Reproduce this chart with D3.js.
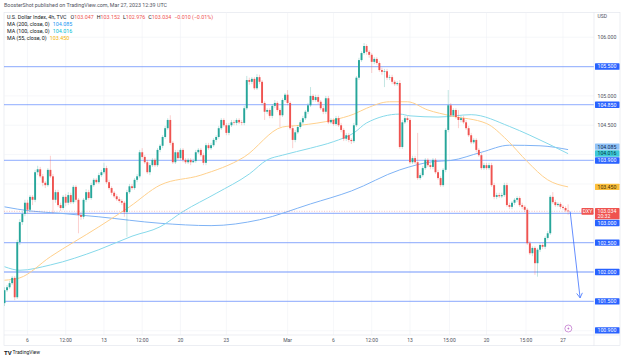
<!DOCTYPE html>
<html>
<head>
<meta charset="utf-8">
<title>U.S. Dollar Index, 4h</title>
<script src="https://d3js.org/d3.v7.min.js"></script>
<style>
  body { margin: 0; background: #fff; }
  svg { display: block; font-family: Roboto, "Noto Sans", sans-serif; }
</style>
</head>
<body>
<svg id="chart" width="625" height="360"></svg>
<script>
// ---- data (4h bars, early Feb to Mar 27 2023) ----
const opens = [
  101.47,101.69,101.74,101.81,101.90,101.57,102.51,102.85,102.99,103.18,
  103.06,103.28,103.23,103.70,103.75,103.63,103.52,103.48,103.74,103.63,
  103.23,103.36,103.14,103.09,103.28,103.18,103.31,103.19,103.45,103.23,
  102.97,102.94,103.23,103.36,103.26,103.48,103.57,103.53,103.65,103.70,
  103.77,103.53,103.43,103.35,103.29,103.24,103.21,103.18,103.02,103.36,
  103.46,103.43,103.57,103.63,104.04,103.96,103.87,103.70,103.82,103.91,
  103.82,104.08,104.15,104.30,104.45,104.59,104.20,103.87,104.04,103.94,
  104.08,103.91,103.87,103.91,103.87,103.89,104.04,104.08,103.99,103.86,
  104.16,104.11,104.16,104.25,104.30,104.45,104.59,104.50,104.37,104.50,
  104.55,104.54,104.59,104.55,104.54,104.79,105.27,105.24,105.29,105.13,
  105.32,105.24,104.88,104.73,104.76,104.66,104.83,104.88,104.76,104.67,
  104.93,105.02,104.88,104.45,104.25,104.38,104.47,104.55,104.62,104.73,
  104.84,105.00,104.93,104.98,104.90,104.79,104.73,104.96,104.55,104.59,
  104.52,104.62,104.50,104.42,104.27,104.33,104.25,104.23,104.50,105.31,
  105.61,105.73,105.85,105.75,105.70,105.58,105.63,105.56,105.44,105.41,
  105.42,105.31,105.32,105.24,105.20,105.22,104.13,104.55,104.62,104.59,
  103.87,103.94,103.87,103.60,103.65,103.77,103.91,103.82,103.79,103.91,
  103.70,103.60,103.48,103.74,104.42,104.84,104.67,104.76,104.64,104.59,
  104.62,104.55,104.45,104.33,104.21,104.25,104.08,103.99,103.77,103.82,
  103.77,103.82,103.48,103.28,103.31,103.29,103.31,103.48,103.14,103.11,
  103.18,103.23,103.26,103.14,103.11,103.06,102.49,102.32,102.41,102.15,
  102.38,102.46,102.43,102.58,102.66,103.28,103.19,103.14,103.16,103.11,
  103.09,103.047
];
const highs = [
  101.74,101.78,101.85,101.93,101.93,102.55,102.90,103.04,103.23,103.23,
  103.31,103.31,103.74,103.81,103.79,103.67,103.55,103.77,103.98,103.67,
  103.40,103.40,103.18,103.31,103.33,103.36,103.35,103.48,103.48,103.26,
  103.02,103.26,103.41,103.40,103.52,103.60,103.60,103.69,103.74,103.86,
  103.81,103.57,103.46,103.38,103.33,103.28,103.24,103.21,103.40,103.50,
  103.50,103.60,103.67,104.08,104.11,103.99,103.91,103.86,103.94,103.94,
  104.11,104.18,104.33,104.49,104.62,104.67,104.23,104.08,104.08,104.11,
  104.11,103.94,103.94,103.94,103.93,104.08,104.11,104.11,104.03,104.20,
  104.20,104.20,104.28,104.33,104.49,104.62,104.62,104.54,104.54,104.59,
  104.59,104.62,104.62,104.59,104.83,105.34,105.31,105.32,105.32,105.37,
  105.36,105.27,104.91,104.79,104.79,104.86,104.93,104.91,104.79,104.96,
  105.05,105.10,104.91,104.49,104.42,104.50,104.59,104.66,104.76,104.88,
  105.15,105.03,105.02,105.02,104.93,104.83,105.00,105.00,104.62,104.62,
  104.66,104.66,104.54,104.45,104.37,104.37,104.28,104.54,105.34,105.65,
  105.76,105.90,105.88,105.78,105.73,105.66,105.66,105.59,105.48,105.46,
  105.46,105.36,105.36,105.27,105.25,105.27,104.59,104.66,104.66,104.62,
  103.98,103.98,104.37,103.69,103.81,103.94,103.94,103.86,103.94,103.94,
  103.74,103.63,103.77,104.45,105.10,104.88,104.79,104.79,104.76,104.66,
  104.66,104.59,104.49,104.37,104.28,104.28,104.11,104.03,103.86,103.86,
  103.86,103.86,103.52,103.35,103.35,103.35,103.52,103.52,103.18,103.21,
  103.26,103.29,103.29,103.18,103.14,103.09,102.53,102.44,102.44,102.41,
  102.49,102.49,102.61,102.70,103.31,103.36,103.23,103.19,103.19,103.14,
  103.12,103.152
];
const lows = [
  101.42,101.66,101.71,101.78,101.52,101.54,102.46,102.80,102.95,103.00,
  103.02,103.14,103.19,103.65,103.60,103.46,103.43,103.45,103.60,103.00,
  103.18,103.11,103.04,103.06,103.12,103.14,103.16,103.16,103.19,102.66,
  102.89,102.90,103.19,103.23,103.23,103.45,103.50,103.50,103.62,103.67,
  103.50,103.40,103.31,103.26,103.21,103.18,103.14,102.94,102.60,103.33,
  103.40,103.40,103.53,103.60,103.93,103.84,103.67,103.65,103.79,103.79,
  103.79,104.04,104.11,104.27,104.42,104.16,103.84,103.84,103.91,103.91,
  103.87,103.84,103.84,103.82,103.86,103.86,104.01,103.96,103.82,103.82,
  104.08,104.08,104.13,104.21,104.27,104.42,104.47,104.33,104.33,104.47,
  104.50,104.50,104.52,104.50,104.50,104.76,105.19,105.20,105.10,105.10,
  105.20,104.84,104.59,104.69,104.62,104.62,104.79,104.73,104.47,104.64,
  104.90,104.84,104.42,104.11,104.21,104.35,104.44,104.52,104.59,104.69,
  104.81,104.90,104.90,104.86,104.76,104.69,104.69,104.52,104.52,104.49,
  104.49,104.47,104.38,104.23,104.23,104.21,104.18,104.20,104.47,105.27,
  105.58,105.70,105.70,105.65,105.39,105.54,105.53,105.41,105.36,105.15,
  105.27,105.27,105.20,105.17,105.17,104.10,104.10,104.52,104.55,103.84,
  103.84,103.84,103.57,103.57,103.62,103.74,103.79,103.75,103.75,103.67,
  103.57,103.45,103.45,103.70,104.38,104.64,104.64,104.61,104.45,104.55,
  104.52,104.42,104.30,104.18,104.18,104.04,103.96,103.74,103.74,103.74,
  103.74,103.45,103.24,103.24,103.26,103.26,103.28,103.11,103.07,103.07,
  103.14,103.19,103.11,103.07,103.02,102.46,102.29,102.27,101.95,101.92,
  102.34,102.39,102.39,102.55,102.63,103.16,103.11,103.11,103.07,103.06,
  103.02,102.976
];
const closes = [
  101.69,101.74,101.81,101.90,101.57,102.51,102.85,102.99,103.18,103.06,
  103.28,103.23,103.70,103.75,103.63,103.52,103.48,103.74,103.63,103.23,
  103.36,103.14,103.09,103.28,103.18,103.31,103.19,103.45,103.23,102.97,
  102.94,103.23,103.36,103.26,103.48,103.57,103.53,103.65,103.70,103.77,
  103.53,103.43,103.35,103.29,103.24,103.21,103.18,103.02,103.36,103.46,
  103.43,103.57,103.63,104.04,103.96,103.87,103.70,103.82,103.91,103.82,
  104.08,104.15,104.30,104.45,104.59,104.20,103.87,104.04,103.94,104.08,
  103.91,103.87,103.91,103.87,103.89,104.04,104.08,103.99,103.86,104.16,
  104.11,104.16,104.25,104.30,104.45,104.59,104.50,104.37,104.50,104.55,
  104.54,104.59,104.55,104.54,104.79,105.27,105.24,105.29,105.13,105.32,
  105.24,104.88,104.73,104.76,104.66,104.83,104.88,104.76,104.67,104.93,
  105.02,104.88,104.45,104.25,104.38,104.47,104.55,104.62,104.73,104.84,
  105.00,104.93,104.98,104.90,104.79,104.73,104.96,104.55,104.59,104.52,
  104.62,104.50,104.42,104.27,104.33,104.25,104.23,104.50,105.31,105.61,
  105.73,105.85,105.75,105.70,105.58,105.63,105.56,105.44,105.41,105.42,
  105.31,105.32,105.24,105.20,105.22,104.13,104.55,104.62,104.59,103.87,
  103.94,103.87,103.60,103.65,103.77,103.91,103.82,103.79,103.91,103.70,
  103.60,103.48,103.74,104.42,104.84,104.67,104.76,104.64,104.59,104.62,
  104.55,104.45,104.33,104.21,104.25,104.08,103.99,103.77,103.82,103.77,
  103.82,103.48,103.28,103.31,103.29,103.31,103.48,103.14,103.11,103.18,
  103.23,103.26,103.14,103.11,103.06,102.49,102.32,102.41,102.15,102.38,
  102.46,102.43,102.58,102.66,103.28,103.19,103.14,103.16,103.11,103.09,
  103.05,103.034
];

// moving averages, read at a few bars: [bar index, value]
const ma200 = [[0,103.11],[10,103.04],[22,103.00],[37,102.94],[61,102.83],[81,102.79],
  [100,102.89],[120,103.16],[136,103.38],[155,103.74],[168,103.88],[175,103.90],
  [187,104.04],[198,104.16],[210,104.15],[221,104.085]];
const ma100 = [[0,102.09],[6,102.03],[18,102.12],[37,102.38],[50,102.61],[61,102.77],
  [70,103.03],[83,103.34],[96,103.67],[103,103.91],[109,103.99],[120,104.11],[129,104.22],
  [137,104.37],[142,104.54],[155,104.69],[159,104.66],[170,104.64],[183,104.68],
  [198,104.48],[206,104.33],[221,104.016]];
const ma55 = [[0,101.86],[6,101.90],[18,102.26],[37,102.77],[49,103.11],[61,103.48],
  [77,103.65],[94,103.96],[109,104.47],[116,104.50],[129,104.59],[137,104.69],[142,104.79],
  [151,104.90],[158,104.90],[166,104.76],[175,104.66],[189,104.53],[197,104.25],
  [205,103.88],[213,103.57],[221,103.45]];

// horizontal levels drawn on the chart
const levels = [105.5, 104.85, 103.9, 103.0, 102.5, 102.0, 101.5, 100.9];
const priceTicks = [101, 101.5, 102, 102.5, 103, 103.5, 104, 104.5, 105, 105.5, 106];
const timeTickIdx = [9, 24, 39, 54, 69, 87, 111, 129, 144, 159, 174.5, 189, 204.5, 219];
const timeTickLabels = ["6", "12:00", "13", "12:00", "20", "23", "Mar", "6", "12:00", "13", "15:00", "20", "15:00", "27"];

// projected move drawn by the author: [bar index, price]
const arrowFrom = [221.8, 103.03];
const arrowTo = [225.7, 101.56];

const lastOpen = 103.047, lastHigh = 103.152, lastLow = 102.976, lastClose = 103.034;

// ---- layout ----
const svg = d3.select("#chart");
const plot = { l: 4, r: 594, t: 12.5, b: 335 };
const axisR = 620, axisB = 345.5;

const x = d3.scaleLinear().domain([0, 219]).range([4.5, 563]);
const y = d3.scaleLinear().domain([101, 106]).range([330.7, 37.2]);

const UP = "#26a69a", DOWN = "#ef5350";
const TXT = "#131722", MUTED = "#50535e";

svg.append("text").attr("x", 4).attr("y", 7.2)
  .attr("font-size", 5.35).attr("fill", MUTED)
  .text("BoosterShot published on TradingView.com, Mar 27, 2023 12:39 UTC");

svg.append("rect").attr("x", plot.l).attr("y", plot.t)
  .attr("width", axisR - plot.l).attr("height", axisB - plot.t)
  .attr("fill", "#fff").attr("stroke", "#e0e3eb").attr("stroke-width", 0.6);

svg.append("defs").append("clipPath").attr("id", "clip")
  .append("rect").attr("x", plot.l).attr("y", plot.t)
  .attr("width", plot.r - plot.l).attr("height", plot.b - plot.t);

// grid
const grid = svg.append("g").attr("stroke", "#f0f2f6").attr("stroke-width", 0.6);
grid.selectAll(".gx").data(timeTickIdx).join("line")
  .attr("x1", d => x(d)).attr("x2", d => x(d))
  .attr("y1", plot.t).attr("y2", plot.b);
grid.selectAll(".gy").data(priceTicks).join("line")
  .attr("x1", plot.l).attr("x2", plot.r)
  .attr("y1", d => y(d)).attr("y2", d => y(d));

const g = svg.append("g").attr("clip-path", "url(#clip)");

// level lines
g.selectAll(".lvl").data(levels).join("line")
  .attr("x1", plot.l).attr("x2", plot.r)
  .attr("y1", d => y(d)).attr("y2", d => y(d))
  .attr("stroke", "#2962ff").attr("stroke-opacity", 0.42).attr("stroke-width", 1.3);

// moving averages
const maLine = d3.line().x(d => x(d[0])).y(d => y(d[1])).curve(d3.curveMonotoneX);
[[ma200, "#7fb3f5"], [ma100, "#86d9ea"], [ma55, "#ffd08c"]].forEach(([data, c]) => {
  g.append("path").datum(data).attr("d", maLine)
    .attr("fill", "none").attr("stroke", c).attr("stroke-width", 1);
});

// last-price dotted line
g.append("line").attr("x1", plot.l).attr("x2", plot.r)
  .attr("y1", y(lastClose)).attr("y2", y(lastClose))
  .attr("stroke", DOWN).attr("stroke-opacity", 0.6)
  .attr("stroke-width", 0.6).attr("stroke-dasharray", "1,1.5");

// candles
const bars = d3.range(closes.length).map(i => ({
  i, o: opens[i], h: highs[i], l: lows[i], c: closes[i]
}));
const bw = 1.9;
const cg = g.append("g");
cg.selectAll(".wick").data(bars).join("line")
  .attr("x1", d => x(d.i)).attr("x2", d => x(d.i))
  .attr("y1", d => y(d.h)).attr("y2", d => y(d.l))
  .attr("stroke", d => d.c >= d.o ? UP : DOWN)
  .attr("stroke-opacity", 0.4).attr("stroke-width", 0.7);
cg.selectAll(".body").data(bars).join("rect")
  .attr("x", d => x(d.i) - bw / 2).attr("width", bw)
  .attr("y", d => y(Math.max(d.o, d.c)))
  .attr("height", d => Math.max(0.6, Math.abs(y(d.o) - y(d.c))))
  .attr("fill", d => d.c >= d.o ? UP : DOWN);

// arrow
const ax1 = x(arrowFrom[0]), ay1 = y(arrowFrom[1]);
const ax2 = x(arrowTo[0]), ay2 = y(arrowTo[1]);
const ang = Math.atan2(ay2 - ay1, ax2 - ax1);
const head = 5.5, spread = 0.55;
svg.append("path")
  .attr("d", `M${ax1},${ay1}L${ax2},${ay2}` +
    `M${ax2 - head * Math.cos(ang - spread)},${ay2 - head * Math.sin(ang - spread)}L${ax2},${ay2}` +
    `L${ax2 - head * Math.cos(ang + spread)},${ay2 - head * Math.sin(ang + spread)}`)
  .attr("fill", "none").attr("stroke", "#2962ff").attr("stroke-opacity", 0.8).attr("stroke-width", 0.9);

// lightning badge
const bx = x(221.1), by = plot.b - 6.5;
svg.append("circle").attr("cx", bx).attr("cy", by).attr("r", 3.5)
  .attr("fill", "#fff").attr("stroke", "#ba68c8").attr("stroke-width", 0.7);
svg.append("path")
  .attr("d", `M${bx + 0.7},${by - 2.3}L${bx - 1.2},${by + 0.3}L${bx + 0.1},${by + 0.3}L${bx - 0.7},${by + 2.3}L${bx + 1.2},${by - 0.4}L${bx - 0.1},${by - 0.4}Z`)
  .attr("fill", "#ba68c8");

// axes frame lines
svg.append("line").attr("x1", plot.l).attr("x2", axisR).attr("y1", plot.b).attr("y2", plot.b)
  .attr("stroke", "#e0e3eb").attr("stroke-width", 0.6);
svg.append("line").attr("x1", plot.r).attr("x2", plot.r).attr("y1", plot.t).attr("y2", axisB)
  .attr("stroke", "#e0e3eb").attr("stroke-width", 0.6);

// time axis labels
svg.append("g").selectAll("text").data(timeTickIdx).join("text")
  .attr("x", d => x(d)).attr("y", 341.6)
  .attr("text-anchor", "middle").attr("font-size", 5).attr("fill", MUTED)
  .text((d, k) => timeTickLabels[k]);

// price labels with simple collision handling
const lblH = 6.4, lblGap = 6.9;
const clampY = v => Math.max(plot.t + 4, Math.min(plot.b - 4.6, v));
const closeY = y(lastClose);
const closeTop = closeY - 3.2, closeBot = closeY + 8;
let labels = levels.map(v => ({ y: clampY(y(v)), text: v.toFixed(3), bg: "#2962ff", fg: "#fff" }))
  .concat([
    { y: y(ma200[ma200.length - 1][1]), text: "104.085", bg: "#90c2f7", fg: "#0b2a52" },
    { y: y(ma100[ma100.length - 1][1]), text: "104.016", bg: "#3cc8d8", fg: "#073a40" },
    { y: y(ma55[ma55.length - 1][1]), text: "103.450", bg: "#fbbf3c", fg: "#3d2a00" }
  ]);
labels.forEach(l => {
  if (l.y + lblH / 2 > closeTop && l.y - lblH / 2 < closeBot) l.y = closeBot + lblH / 2 + 0.5;
});
labels.sort((a, b) => b.y - a.y);
for (let k = 1; k < labels.length; k++) {
  if (labels[k - 1].y - labels[k].y < lblGap && labels[k].y < closeTop) {
    labels[k].y = labels[k - 1].y - lblGap;
  }
}

// price axis ticks, hidden where a label box sits on them
const taken = labels.map(l => [l.y - lblH / 2 - 1.5, l.y + lblH / 2 + 1.5]).concat([[closeTop - 1.5, closeBot + 1.5]]);
const freeTicks = priceTicks.filter(v => !taken.some(([a, b]) => y(v) > a && y(v) < b));
svg.append("text").attr("x", 597.5).attr("y", 17.6)
  .attr("font-size", 5).attr("fill", MUTED).text("USD");
svg.append("g").selectAll("text").data(freeTicks).join("text")
  .attr("x", 597.5).attr("y", d => y(d)).attr("dy", "0.35em")
  .attr("font-size", 5.2).attr("fill", MUTED)
  .text(d => d.toFixed(3));

const lg = svg.append("g");
lg.selectAll("rect").data(labels).join("rect")
  .attr("x", 595).attr("width", 24.5)
  .attr("y", d => d.y - lblH / 2).attr("height", lblH)
  .attr("fill", d => d.bg).attr("rx", 0.6);
lg.selectAll("text").data(labels).join("text")
  .attr("x", 597.5).attr("y", d => d.y).attr("dy", "0.36em")
  .attr("font-size", 5.2).attr("fill", d => d.fg).text(d => d.text);

// last price label
svg.append("rect").attr("x", 595).attr("width", 24.5)
  .attr("y", closeTop).attr("height", closeBot - closeTop).attr("fill", DOWN).attr("rx", 0.6);
svg.append("text").attr("x", 597.5).attr("y", closeY).attr("dy", "0.36em")
  .attr("font-size", 5.2).attr("fill", "#fff").text(lastClose.toFixed(3));
svg.append("text").attr("x", 597.5).attr("y", closeY + 5.2).attr("dy", "0.36em")
  .attr("font-size", 5.2).attr("fill", "#fff").text("20:32");
svg.append("rect").attr("x", 581.5).attr("width", 12).attr("y", closeY - 3.2).attr("height", 6.6)
  .attr("fill", DOWN).attr("rx", 0.6);
svg.append("text").attr("x", 587.5).attr("y", closeY + 0.1).attr("dy", "0.36em")
  .attr("text-anchor", "middle").attr("font-size", 5).attr("fill", "#fff").text("DXY");

// legend
const fmt = d3.format(".3f");
const leg = svg.append("g").attr("font-size", 5.35);
const l1 = leg.append("text").attr("x", 7).attr("y", 18.6).attr("fill", TXT);
l1.append("tspan").text("U.S. Dollar Index, 4h, TVC");
[["O", lastOpen], ["H", lastHigh], ["L", lastLow], ["C", lastClose]].forEach(([k, v], n) => {
  l1.append("tspan").attr("dx", n === 0 ? 4 : 3).attr("fill", TXT).text(k);
  l1.append("tspan").attr("fill", DOWN).text(fmt(v));
});
l1.append("tspan").attr("dx", 3).attr("fill", DOWN).text("\u22120.010 (\u22120.01%)");

[["MA (200, close, 0)", "104.085", "#2196f3"],
 ["MA (100, close, 0)", "104.016", "#00bcd4"],
 ["MA (55, close, 0)", "103.450", "#f5b400"]].forEach(([name, val, c], n) => {
  const t = leg.append("text").attr("x", 7).attr("y", 25.9 + n * 7.2).attr("fill", TXT);
  t.append("tspan").text(name);
  t.append("tspan").attr("dx", 3).attr("fill", c).text(val);
});

// footer logo
svg.append("text").attr("x", 4).attr("y", 354.5).attr("font-size", 6)
  .attr("font-weight", "bold").attr("fill", TXT).text("TV");
svg.append("text").attr("x", 12.5).attr("y", 354.3).attr("font-size", 5)
  .attr("fill", TXT).text("TradingView");
</script>
</body>
</html>
